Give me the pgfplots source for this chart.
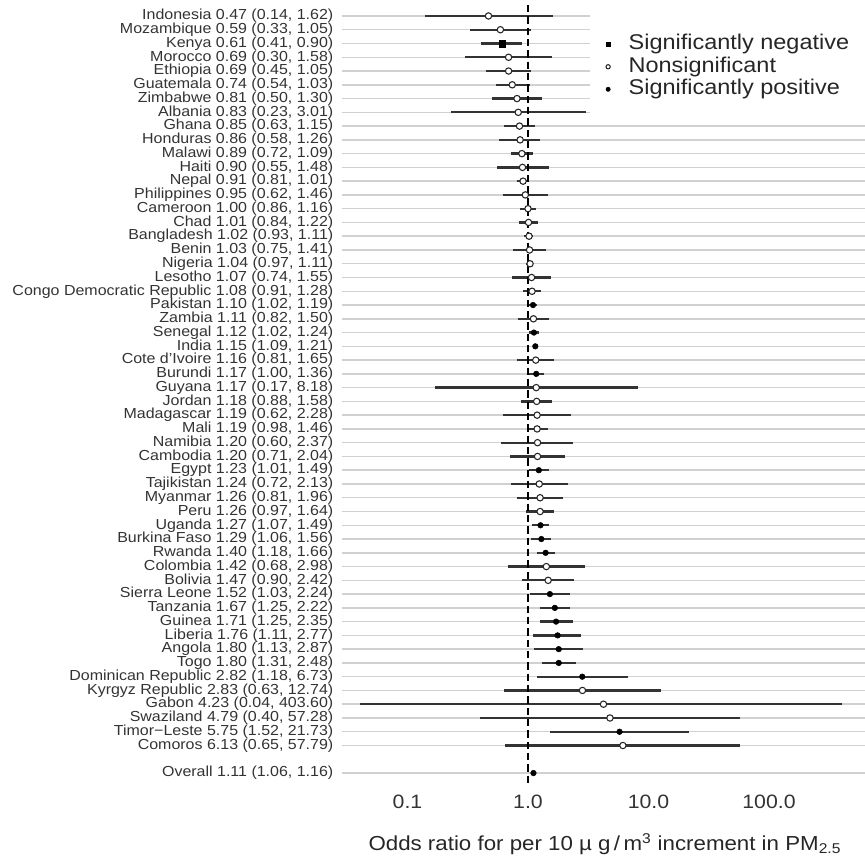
\documentclass[border=0pt]{standalone}
\usepackage{fontspec}
\setmainfont{Liberation Sans}[FakeStretch=1.1]
\usepackage{pgfplots}
\usepackage{pgfplotstable}
\pgfplotsset{compat=1.18}

% odds ratios by country, row 1 at the top; cls: 0 negative, 1 nonsignificant, 2 positive
\pgfplotstableread[col sep=semicolon]{
y;est;lo;hi;cls;label
1;0.47;0.14;1.62;1;Indonesia 0.47 (0.14, 1.62)
2;0.59;0.33;1.05;1;Mozambique 0.59 (0.33, 1.05)
3;0.61;0.41;0.90;0;Kenya 0.61 (0.41, 0.90)
4;0.69;0.30;1.58;1;Morocco 0.69 (0.30, 1.58)
5;0.69;0.45;1.05;1;Ethiopia 0.69 (0.45, 1.05)
6;0.74;0.54;1.03;1;Guatemala 0.74 (0.54, 1.03)
7;0.81;0.50;1.30;1;Zimbabwe 0.81 (0.50, 1.30)
8;0.83;0.23;3.01;1;Albania 0.83 (0.23, 3.01)
9;0.85;0.63;1.15;1;Ghana 0.85 (0.63, 1.15)
10;0.86;0.58;1.26;1;Honduras 0.86 (0.58, 1.26)
11;0.89;0.72;1.09;1;Malawi 0.89 (0.72, 1.09)
12;0.90;0.55;1.48;1;Haiti 0.90 (0.55, 1.48)
13;0.91;0.81;1.01;1;Nepal 0.91 (0.81, 1.01)
14;0.95;0.62;1.46;1;Philippines 0.95 (0.62, 1.46)
15;1.00;0.86;1.16;1;Cameroon 1.00 (0.86, 1.16)
16;1.01;0.84;1.22;1;Chad 1.01 (0.84, 1.22)
17;1.02;0.93;1.11;1;Bangladesh 1.02 (0.93, 1.11)
18;1.03;0.75;1.41;1;Benin 1.03 (0.75, 1.41)
19;1.04;0.97;1.11;1;Nigeria 1.04 (0.97, 1.11)
20;1.07;0.74;1.55;1;Lesotho 1.07 (0.74, 1.55)
21;1.08;0.91;1.28;1;Congo Democratic Republic 1.08 (0.91, 1.28)
22;1.10;1.02;1.19;2;Pakistan 1.10 (1.02, 1.19)
23;1.11;0.82;1.50;1;Zambia 1.11 (0.82, 1.50)
24;1.12;1.02;1.24;2;Senegal 1.12 (1.02, 1.24)
25;1.15;1.09;1.21;2;India 1.15 (1.09, 1.21)
26;1.16;0.81;1.65;1;Cote d'Ivoire 1.16 (0.81, 1.65)
27;1.17;1.00;1.36;2;Burundi 1.17 (1.00, 1.36)
28;1.17;0.17;8.18;1;Guyana 1.17 (0.17, 8.18)
29;1.18;0.88;1.58;1;Jordan 1.18 (0.88, 1.58)
30;1.19;0.62;2.28;1;Madagascar 1.19 (0.62, 2.28)
31;1.19;0.98;1.46;1;Mali 1.19 (0.98, 1.46)
32;1.20;0.60;2.37;1;Namibia 1.20 (0.60, 2.37)
33;1.20;0.71;2.04;1;Cambodia 1.20 (0.71, 2.04)
34;1.23;1.01;1.49;2;Egypt 1.23 (1.01, 1.49)
35;1.24;0.72;2.13;1;Tajikistan 1.24 (0.72, 2.13)
36;1.26;0.81;1.96;1;Myanmar 1.26 (0.81, 1.96)
37;1.26;0.97;1.64;1;Peru 1.26 (0.97, 1.64)
38;1.27;1.07;1.49;2;Uganda 1.27 (1.07, 1.49)
39;1.29;1.06;1.56;2;Burkina Faso 1.29 (1.06, 1.56)
40;1.40;1.18;1.66;2;Rwanda 1.40 (1.18, 1.66)
41;1.42;0.68;2.98;1;Colombia 1.42 (0.68, 2.98)
42;1.47;0.90;2.42;1;Bolivia 1.47 (0.90, 2.42)
43;1.52;1.03;2.24;2;Sierra Leone 1.52 (1.03, 2.24)
44;1.67;1.25;2.22;2;Tanzania 1.67 (1.25, 2.22)
45;1.71;1.25;2.35;2;Guinea 1.71 (1.25, 2.35)
46;1.76;1.11;2.77;2;Liberia 1.76 (1.11, 2.77)
47;1.80;1.13;2.87;2;Angola 1.80 (1.13, 2.87)
48;1.80;1.31;2.48;2;Togo 1.80 (1.31, 2.48)
49;2.82;1.18;6.73;2;Dominican Republic 2.82 (1.18, 6.73)
50;2.83;0.63;12.74;1;Kyrgyz Republic 2.83 (0.63, 12.74)
51;4.23;0.04;403.60;1;Gabon 4.23 (0.04, 403.60)
52;4.79;0.40;57.28;1;Swaziland 4.79 (0.40, 57.28)
53;5.75;1.52;21.73;2;Timor−Leste 5.75 (1.52, 21.73)
54;6.13;0.65;57.79;1;Comoros 6.13 (0.65, 57.79)
56;1.11;1.06;1.16;2;Overall 1.11 (1.06, 1.16)
}\data

\begin{document}
\begin{tikzpicture}
\path[use as bounding box] (-256.5pt,-55.65pt) rectangle (392.25pt,590.1pt);
\begin{axis}[
    scale only axis,
    width=392.25pt, height=588.45pt,
    xmode=log, xmin=0.0286, xmax=626,
    ymin=0, ymax=57, y dir=reverse,
    axis line style={draw=none},
    major tick length=0pt, minor tick length=0pt,
    xtick={0.1,1,10,100},
    xticklabels={0.1,1.0,10.0,100.0},
    xticklabel style={font=\fontsize{14.5}{16}\selectfont, text=black!80, anchor=base, yshift=-15.9pt},
    ytick={1,...,54,56},
    yticklabels from table={\data}{label},
    yticklabel style={font=\fontsize{10.9}{12}\selectfont, text=black!80, anchor=east, xshift=-3pt},
    ymajorgrids,
    grid style={black!18, line width=1.1pt},
    xlabel={Odds ratio for per 10 µ g\,/\,m\textsuperscript{3} increment in PM\textsubscript{2.5}},
    xlabel style={font=\fontsize{15.2}{16}\selectfont, text=black!85, at={(axis description cs:0.5,0)}, anchor=base, yshift=-47.4pt, xshift=1pt},
    legend style={at={(axis description cs:0.4742,0.9862)}, anchor=north west,
        draw=none, fill=white, font=\fontsize{16}{17}\selectfont, text=black!85,
        inner xsep=11.8pt, inner ysep=14.75pt, row sep=0pt, column sep=10.5pt,
        nodes={inner ysep=0pt, inner xsep=3.3pt, text height=12.4pt, text depth=4.5pt}},
    legend cell align=left,
    legend image post style={mark size=1.6pt},
]
% confidence intervals
\addplot[forget plot, draw=none, mark=none,
    error bars/.cd, x dir=both, x explicit, error mark=none,
    error bar style={line width=1.7pt, black!80}]
    table[x=est, y=y, x error plus expr=\thisrow{hi}-\thisrow{est},
          x error minus expr=\thisrow{est}-\thisrow{lo}] {\data};
% reference line at OR = 1
\addplot[forget plot, black, line width=1.3pt, dash pattern=on 5.5pt off 3pt] coordinates {(1,0.2) (1,56.8)};
% point estimates
\addplot[only marks, mark=square*, mark size=2.5pt, black, restrict expr to domain={\thisrow{cls}}{0:0}]
    table[x=est, y=y] {\data};
\addlegendentry{Significantly negative}
\addplot[only marks, mark=*, mark size=2.4pt, draw=black!85, fill=white, line width=0.8pt,
    restrict expr to domain={\thisrow{cls}}{1:1}]
    table[x=est, y=y] {\data};
\addlegendentry{Nonsignificant}
\addplot[only marks, mark=*, mark size=2.1pt, black, restrict expr to domain={\thisrow{cls}}{2:2}]
    table[x=est, y=y] {\data};
\addlegendentry{Significantly positive}
\end{axis}
\end{tikzpicture}
\end{document}
